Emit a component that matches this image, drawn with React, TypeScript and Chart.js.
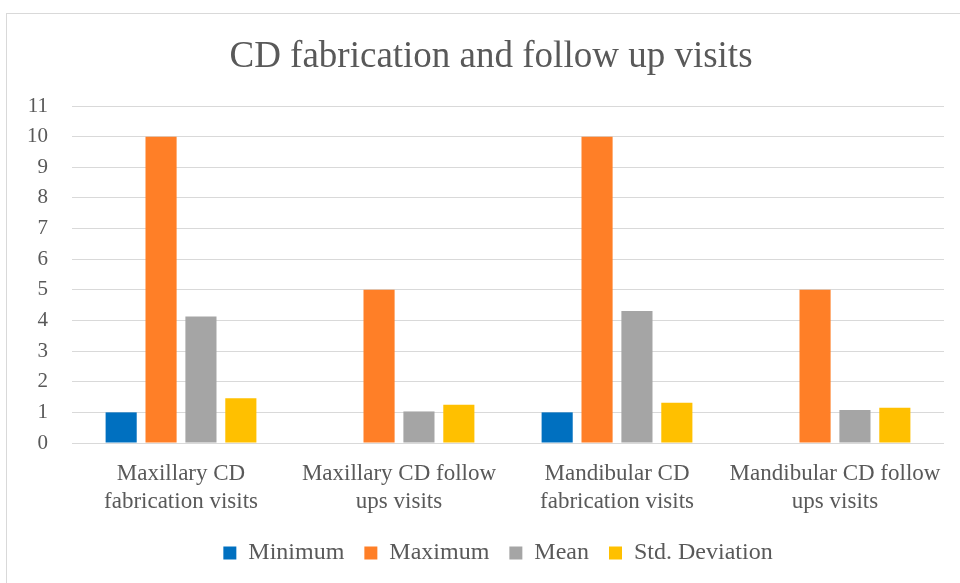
import React, { useEffect, useRef } from "react";
import { Chart, registerables } from "chart.js";

Chart.register(...registerables);

const categories: string[][] = [
  ["Maxillary CD", "fabrication visits"],
  ["Maxillary CD follow", "ups visits"],
  ["Mandibular CD", "fabrication visits"],
  ["Mandibular CD follow", "ups visits"],
];
const minimum = [1, 0, 1, 0];
const maximum = [10, 5, 10, 5];
const mean = [4.13, 1.03, 4.31, 1.08];
const stdDeviation = [1.46, 1.25, 1.31, 1.15];
const yTicks = [0, 1, 2, 3, 4, 5, 6, 7, 8, 9, 10, 11];

const FONT = "'Liberation Serif', serif";
const TEXT = "#595959";

const shiftPlugin = {
  id: "shiftBoxes",
  afterLayout(chart: any) {
    if (chart.legend) {
      chart.legend.left += 26;
      chart.legend.right += 26;
    }
    if (chart.titleBlock) {
      chart.titleBlock.left += 19;
      chart.titleBlock.right += 19;
    }
  },
};

export default function App() {
  const ref = useRef<HTMLCanvasElement | null>(null);
  useEffect(() => {
    if (!ref.current) return;
    const chart = new Chart(ref.current, {
      type: "bar",
      data: {
        labels: categories,
        datasets: [
          { label: "Minimum", data: minimum, backgroundColor: "#0070C0" },
          { label: "Maximum", data: maximum, backgroundColor: "#FF7F27" },
          { label: "Mean", data: mean, backgroundColor: "#A5A5A5" },
          { label: "Std. Deviation", data: stdDeviation, backgroundColor: "#FFC000" },
        ],
      },
      plugins: [shiftPlugin],
      options: {
        animation: false,
        responsive: false,
        maintainAspectRatio: false,
        datasets: { bar: { categoryPercentage: 0.732, barPercentage: 0.78 } },
        layout: { padding: { left: 0, right: 16, top: 0, bottom: 8 } },
        plugins: {
          title: {
            display: true,
            text: "CD fabrication and follow up visits",
            color: TEXT,
            font: { family: FONT, size: 37, weight: "normal", lineHeight: 1.2 },
            padding: { top: 35, bottom: 26.6 },
          },
          legend: {
            position: "bottom",
            labels: {
              boxWidth: 13,
              boxHeight: 13,
              padding: 20,
              color: TEXT,
              font: { family: FONT, size: 24 },
            },
          },
          tooltip: { enabled: false },
        },
        scales: {
          x: {
            afterFit: (s: any) => {
              s.height = 78;
            },
            grid: { display: false, drawTicks: false },
            border: { display: false },
            ticks: {
              color: TEXT,
              padding: 17,
              maxRotation: 0,
              autoSkip: false,
              font: { family: FONT, size: 23, lineHeight: 28 / 23 },
            },
          },
          y: {
            min: 0,
            max: 11,
            afterBuildTicks: (s: any) => {
              s.ticks = yTicks.map((v) => ({ value: v }));
            },
            afterFit: (s: any) => {
              s.width = 72;
            },
            grid: { color: "#d9d9d9", drawTicks: false, lineWidth: 1 },
            border: { display: false },
            ticks: {
              color: TEXT,
              padding: 24,
              font: { family: FONT, size: 21 },
            },
          },
        },
      },
    });
    return () => chart.destroy();
  }, []);
  return (
    <div style={{ position: "fixed", left: 0, top: 0, width: 960, height: 583, background: "#fff", overflow: "hidden" }}>
      <div
        style={{
          position: "absolute",
          left: 6,
          top: 13,
          width: 1000,
          height: 600,
          border: "1px solid #d9d9d9",
          boxSizing: "border-box",
        }}
      />
      <canvas ref={ref} width={960} height={583} style={{ position: "absolute", left: 0, top: 0 }} />
    </div>
  );
}
